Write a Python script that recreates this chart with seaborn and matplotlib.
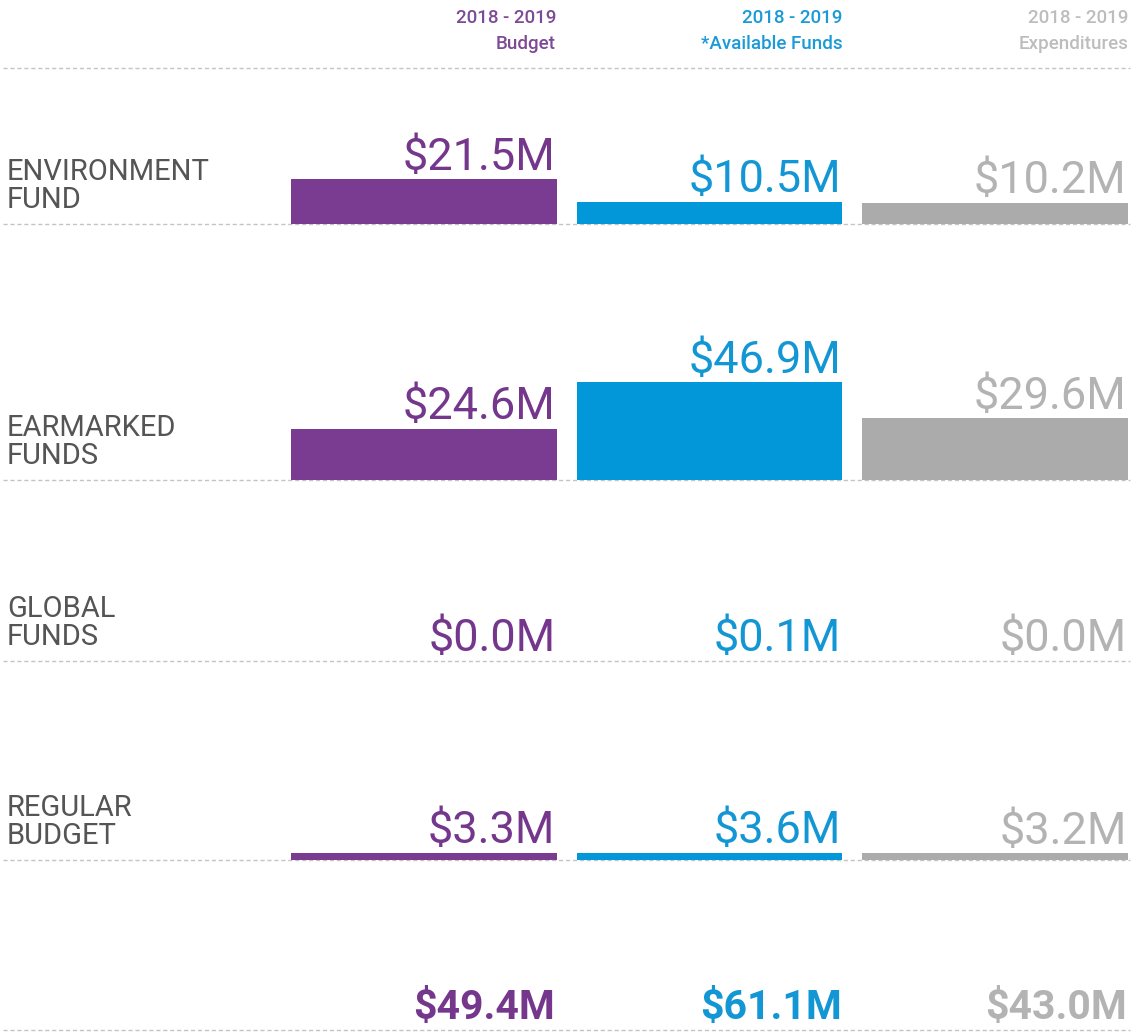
import pandas as pd
import matplotlib.pyplot as plt
import seaborn as sns

# Chart data (values in $M)
columns = ['Budget', 'Available', 'Expenditures']
header_lines = ['2018 - 2019\nBudget', '2018 - 2019\n*Available Funds', '2018 - 2019\nExpenditures']
row_labels = ['ENVIRONMENT\nFUND', 'EARMARKED\nFUNDS', 'GLOBAL\nFUNDS', 'REGULAR\nBUDGET']
environment = [21.5, 10.5, 10.2]
earmarked = [24.6, 46.9, 29.6]
global_funds = [0.0, 0.1, 0.0]
regular = [3.3, 3.6, 3.2]
totals = [49.4, 61.1, 43.0]

# Styling
bar_colors = ['#7a3c91', '#0197d8', '#ababab']
text_colors = ['#74378c', '#1396d4', '#b3b3b3']
header_colors = ['#7d4a96', '#1a9ad6', '#bdbdbd']
label_color = '#555555'
line_color = '#c4c4c4'

W, H = 1132, 1036
PX_PER_M = 2.08
BAR_LEFT, BAR_RIGHT = 291, 1128
BAR_W = 0.93
row_baselines = [224, 480, 661, 860]
total_baseline = 1030
right_edges = [556, 843, 1128]

sns.set_style('white')
plt.rcParams['font.family'] = ['Roboto', 'DejaVu Sans']

fig = plt.figure(figsize=(W / 100, H / 100), dpi=100)
bg = fig.add_axes([0, 0, 1, 1])
bg.set_xlim(0, W)
bg.set_ylim(H, 0)
bg.axis('off')

# dashed separators
bg.hlines([68] + row_baselines + [total_baseline], 3, 1130,
          color=line_color, lw=1, linestyles=(0, (3, 2)))

# column headers
for x, txt, c in zip(right_edges, header_lines, header_colors):
    bg.text(x, 9, txt, ha='right', va='top', fontsize=13.5, color=c,
            fontweight='medium', linespacing=1.55, multialignment='right')

rows = [environment, earmarked, global_funds, regular]
for base, label, vals in zip(row_baselines, row_labels, rows):
    bg.text(7, base - 10, label, ha='left', va='bottom', fontsize=21,
            color=label_color, linespacing=1.0)

    ax_h = 150
    ax = fig.add_axes([BAR_LEFT / W, 1 - base / H, (BAR_RIGHT - BAR_LEFT) / W, ax_h / H])
    df = pd.DataFrame({'col': columns, 'value': vals})
    sns.barplot(data=df, x='col', y='value', hue='col', palette=bar_colors,
                saturation=1, width=BAR_W, legend=False, linewidth=0, ax=ax)
    ax.set_xlim(-BAR_W / 2, len(columns) - 1 + BAR_W / 2)
    ax.set_ylim(0, ax_h / PX_PER_M)
    ax.axis('off')
    for i, v in enumerate(vals):
        ax.annotate(f'${v:.1f}M', xy=(i + BAR_W / 2, v), xytext=(-1, 7),
                    textcoords='offset points', ha='right', va='baseline',
                    fontsize=32.5, color=text_colors[i], annotation_clip=False)

# totals row
for x, v, c in zip(right_edges, totals, text_colors):
    bg.text(x - 1, total_baseline - 11, f'${v:.1f}M', ha='right', va='baseline',
            fontsize=29.5, fontweight='bold', color=c)

fig.savefig('out.png', dpi=100)
